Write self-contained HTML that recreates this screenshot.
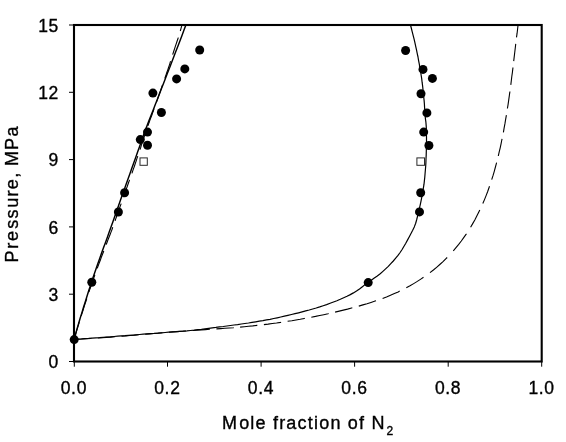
<!DOCTYPE html>
<html><head><meta charset="utf-8"><title>Chart</title>
<style>html,body{margin:0;padding:0;background:#fff;}body{width:566px;height:442px;overflow:hidden;position:relative;font-family:"Liberation Sans",sans-serif;}</style></head>
<body>
<svg width="566" height="442" viewBox="0 0 566 442" style="position:absolute;left:0;top:0;will-change:transform">
<rect x="0" y="0" width="566" height="442" fill="#fff"/>
<line x1="69" y1="361.5" x2="74" y2="361.5" stroke="#000" stroke-width="1"/>
<line x1="69" y1="294.2" x2="74" y2="294.2" stroke="#000" stroke-width="1"/>
<line x1="69" y1="226.9" x2="74" y2="226.9" stroke="#000" stroke-width="1"/>
<line x1="69" y1="159.6" x2="74" y2="159.6" stroke="#000" stroke-width="1"/>
<line x1="69" y1="92.3" x2="74" y2="92.3" stroke="#000" stroke-width="1"/>
<line x1="69" y1="25.0" x2="74" y2="25.0" stroke="#000" stroke-width="1"/>
<line x1="74.3" y1="361" x2="74.3" y2="366.7" stroke="#000" stroke-width="1"/>
<line x1="167.5" y1="361" x2="167.5" y2="366.7" stroke="#000" stroke-width="1"/>
<line x1="261.1" y1="361" x2="261.1" y2="366.7" stroke="#000" stroke-width="1"/>
<line x1="354.6" y1="361" x2="354.6" y2="366.7" stroke="#000" stroke-width="1"/>
<line x1="448.2" y1="361" x2="448.2" y2="366.7" stroke="#000" stroke-width="1"/>
<line x1="541.7" y1="361" x2="541.7" y2="366.7" stroke="#000" stroke-width="1"/>
<g fill="none" stroke="#000" stroke-linejoin="round">
<path d="M74.0,339.5 L74.6,337.4 L75.3,335.3 L75.9,333.1 L76.5,331.0 L77.2,328.9 L77.8,326.8 L78.5,324.7 L79.1,322.5 L79.2,322.2 M81.2,315.8 L81.9,313.7 L82.6,311.5 L83.3,309.4 L83.9,307.3 L84.6,305.2 L85.3,303.1 L86.0,301.0 L86.7,298.9 L86.8,298.5 M88.9,292.0 L89.6,289.9 L90.4,287.8 L91.1,285.7 L91.8,283.6 L92.5,281.5 L93.3,279.4 L94.0,277.3 L94.7,275.3 L94.9,274.8 M97.3,268.3 L98.0,266.2 L98.8,264.1 L99.6,262.0 L100.4,260.0 L101.1,257.9 L101.9,255.8 L102.7,253.8 L103.5,251.7 L103.8,251.0 M106.2,244.6 L107.0,242.5 L107.8,240.4 L108.6,238.3 L109.4,236.3 L110.2,234.2 L111.0,232.1 L111.8,230.1 L112.5,228.0 L112.8,227.3 M115.1,220.8 L115.8,218.7 L116.5,216.7 L117.3,214.6 L118.0,212.5 L118.8,210.4 L119.5,208.3 L120.2,206.2 L121.0,204.1 L121.2,203.6 M123.5,197.1 L124.2,195.0 L124.9,192.9 L125.7,190.8 L126.4,188.7 L127.2,186.6 L127.9,184.5 L128.6,182.5 L129.4,180.4 L129.6,179.8 M131.9,173.4 L132.6,171.3 L133.3,169.2 L134.1,167.1 L134.8,165.0 L135.5,162.9 L136.2,160.8 L136.9,158.7 L137.6,156.6 L137.8,156.1 M140.0,149.6 L140.7,147.5 L141.3,145.4 L142.0,143.3 L142.7,141.2 L143.4,139.1 L144.1,137.0 L144.8,134.9 L145.5,132.8 L145.7,132.4 M147.9,125.9 L148.6,123.8 L149.4,121.7 L150.1,119.6 L150.9,117.5 L151.7,115.5 L152.4,113.4 L153.2,111.3 L153.9,109.2 L154.1,108.6 M156.4,102.2 L157.2,100.1 L157.9,98.0 L158.7,95.9 L159.4,93.8 L160.2,91.7 L160.9,89.6 L161.6,87.6 L162.3,85.5 L162.5,84.9 M164.8,78.4 L165.5,76.4 L166.2,74.3 L166.9,72.2 L167.7,70.1 L168.4,68.0 L169.1,65.9 L169.8,63.8 L170.4,61.7 L170.6,61.2 M172.7,54.7 L173.3,52.6 L174.0,50.5 L174.7,48.4 L175.4,46.2 L176.1,44.1 L176.8,42.0 L177.5,40.0 L178.2,37.9 L178.3,37.5 M180.3,31.0 L180.9,28.8 L181.5,26.7 L181.8,25.3" stroke-width="1.1"/>
<path d="M74.0,339.4 L78.2,339.2 L82.5,339.0 L86.7,338.7 L90.9,338.5 L91.3,338.4 M97.8,338.0 L102.1,337.7 L106.3,337.4 L110.5,337.1 L114.8,336.8 L115.0,336.7 M121.5,336.2 L125.8,335.9 L130.0,335.5 L134.2,335.2 L138.4,334.8 L138.7,334.8 M145.2,334.2 L149.4,333.9 L153.7,333.5 L157.9,333.2 L162.1,332.8 L162.4,332.8 M169.0,332.3 L173.2,331.9 L177.5,331.6 L181.7,331.3 L185.9,331.0 L186.1,330.9 M192.7,330.5 L196.9,330.2 L201.2,329.9 L205.4,329.6 L209.6,329.3 L209.9,329.3 M216.4,328.9 L220.7,328.6 L224.9,328.3 L229.1,328.0 L233.3,327.7 L233.7,327.6 M240.1,327.1 L244.3,326.7 L248.6,326.3 L252.8,325.9 L257.0,325.4 L257.3,325.4 M263.9,324.6 L268.1,324.1 L272.3,323.5 L276.5,323.0 L280.7,322.4 L281.1,322.3 M287.6,321.3 L291.8,320.7 L296.0,320.0 L300.2,319.3 L304.3,318.5 L304.8,318.4 M311.3,317.2 L315.5,316.4 L319.7,315.5 L323.8,314.7 L328.0,313.8 L328.6,313.6 M335.1,312.1 L339.2,311.1 L343.3,310.1 L347.5,309.1 L351.6,308.0 L352.3,307.8 M358.8,306.1 L362.9,304.9 L367.0,303.7 L371.0,302.4 L375.1,301.1 L376.0,300.8 M382.6,298.5 L386.5,297.0 L390.5,295.3 L394.4,293.6 L398.2,291.9 L399.7,291.1 M406.3,287.8 L410.0,285.8 L413.7,283.6 L417.3,281.4 L420.8,279.1 L423.5,277.3 M430.0,272.6 L433.4,270.0 L436.6,267.3 L439.8,264.5 L443.0,261.6 L446.0,258.7 L447.2,257.5 M453.3,250.9 L456.0,247.7 L458.7,244.4 L461.3,241.0 L463.7,237.6 L466.2,234.1 L466.4,233.8 M470.6,227.2 L472.7,223.6 L474.8,219.9 L476.8,216.1 L478.7,212.3 L479.8,210.1 M482.8,203.5 L484.5,199.6 L486.1,195.6 L487.6,191.7 L489.0,187.7 L489.5,186.3 M491.7,179.7 L493.0,175.7 L494.2,171.6 L495.3,167.5 L496.4,163.4 L496.6,162.6 M498.3,156.0 L499.2,151.9 L500.2,147.8 L501.1,143.6 L501.9,139.5 L502.1,138.8 M503.4,132.3 L504.1,128.1 L504.9,123.9 L505.6,119.7 L506.3,115.6 L506.4,115.1 M507.4,108.5 L508.1,104.3 L508.7,100.1 L509.3,95.9 L509.9,91.7 L509.9,91.4 M510.8,84.9 L511.3,80.7 L511.8,76.5 L512.4,72.3 L512.9,68.1 L512.9,67.6 M513.7,61.1 L514.2,56.9 L514.7,52.7 L515.2,48.5 L515.7,44.2 L515.8,43.9 M516.5,37.4 L517.1,33.2 L517.6,29.0 L518.0,25.5" stroke-width="1.1"/>
<path d="M74.0,339.5 L75.6,334.1 L77.1,328.6 L78.7,323.2 L80.3,317.8 L82.0,312.4 L83.6,307.0 L85.3,301.6 L87.0,296.2 L88.7,290.8 L90.5,285.4 L92.2,280.0 L94.0,274.7 L95.9,269.3 L97.7,264.0 L99.6,258.7 L101.5,253.3 L103.4,248.0 L105.4,242.7 L107.3,237.4 L109.2,232.1 L111.1,226.7 L113.0,221.4 L114.9,216.1 L116.8,210.7 L118.6,205.4 L120.5,200.1 L122.4,194.8 L124.3,189.4 L126.2,184.1 L128.1,178.8 L130.0,173.5 L131.9,168.1 L133.8,162.8 L135.7,157.5 L137.6,152.1 L139.5,146.8 L141.3,141.5 L143.2,136.1 L145.1,130.8 L147.1,125.5 L149.1,120.2 L151.2,115.0 L153.3,109.7 L155.3,104.4 L157.4,99.2 L159.4,93.9 L161.5,88.6 L163.5,83.4 L165.6,78.1 L167.6,72.8 L169.7,67.6 L171.7,62.3 L173.7,57.0 L175.7,51.7 L177.8,46.4 L179.8,41.2 L181.8,35.9 L183.8,30.6 L185.8,25.3" stroke-width="1.45"/>
<path d="M74.0,339.4 L77.6,339.1 L81.3,338.9 L84.9,338.6 L88.6,338.4 L92.2,338.1 L95.9,337.8 L99.5,337.6 L103.1,337.3 L106.8,337.0 L110.4,336.8 L114.1,336.5 L117.7,336.2 L121.4,335.9 L125.0,335.7 L128.6,335.4 L132.3,335.1 L135.9,334.8 L139.6,334.5 L143.2,334.2 L146.8,333.9 L150.5,333.6 L154.1,333.4 L157.8,333.1 L161.4,332.8 L165.1,332.5 L168.7,332.2 L172.3,331.9 L176.0,331.7 L179.6,331.4 L183.3,331.2 L186.9,330.9 L190.5,330.5 L194.2,330.2 L197.8,329.7 L201.4,329.3 L205.0,328.8 L208.7,328.3 L212.3,327.8 L215.9,327.4 L219.5,326.9 L223.2,326.5 L226.8,326.0 L230.4,325.5 L234.0,325.0 L237.7,324.6 L241.3,324.0 L244.9,323.5 L248.5,323.0 L252.1,322.4 L255.7,321.8 L259.3,321.2 L262.9,320.6 L266.5,319.9 L270.1,319.3 L273.7,318.5 L277.2,317.8 L280.8,317.0 L284.4,316.2 L287.9,315.4 L291.5,314.5 L295.0,313.7 L298.6,312.8 L302.1,311.9 L305.7,310.9 L309.2,310.0 L312.7,309.0 L316.2,308.0 L319.7,306.9 L323.2,305.7 L326.6,304.6 L330.1,303.3 L333.5,302.0 L336.9,300.7 L340.3,299.3 L343.7,297.8 L347.0,296.3 L350.3,294.6 L353.4,292.9 L356.5,291.0 L359.5,288.9 L362.4,286.7 L365.3,284.4 L368.2,282.2 L371.3,280.2 L374.3,278.1 L377.3,276.0 L380.2,273.8 L382.9,271.4 L385.6,268.9 L388.3,266.4 L390.8,263.7 L393.3,261.0 L395.7,258.2 L398.0,255.4 L400.1,252.5 L402.1,249.5 L404.0,246.3 L405.8,243.2 L407.6,239.9 L409.3,236.7 L411.0,233.4 L412.7,230.2 L414.3,226.9 L415.6,223.5 L416.6,220.0 L417.5,216.4 L418.3,212.9 L419.1,209.3 L420.0,205.8 L420.8,202.2 L421.5,198.6 L422.2,195.0 L422.8,191.4 L423.4,187.8 L424.0,184.2 L424.4,180.6 L424.8,177.0 L425.1,173.3 L425.4,169.7 L425.7,166.0 L425.9,162.4 L426.0,158.7 L426.2,155.1 L426.3,151.4 L426.4,147.8 L426.5,144.1 L426.5,140.5 L426.5,136.8 L426.4,133.2 L426.4,129.5 L426.2,125.9 L425.9,122.2 L425.4,118.6 L425.1,115.0 L424.8,111.3 L424.6,107.7 L424.4,104.0 L424.1,100.4 L423.7,96.8 L423.4,93.1 L423.0,89.5 L422.6,85.9 L422.1,82.2 L421.7,78.6 L421.1,75.0 L420.6,71.4 L419.9,67.8 L419.3,64.2 L418.6,60.6 L418.0,57.0 L417.2,53.4 L416.5,49.9 L415.7,46.3 L414.9,42.7 L414.1,39.2 L413.2,35.6 L412.3,32.1 L411.4,28.5 L410.5,25.0" stroke-width="1.2"/>
</g>
<rect x="74" y="25" width="467.7" height="336.5" fill="none" stroke="#000" stroke-width="2.1"/>
<circle cx="199.7" cy="50.0" r="4.5" fill="#000"/>
<circle cx="184.8" cy="68.9" r="4.5" fill="#000"/>
<circle cx="176.6" cy="78.9" r="4.5" fill="#000"/>
<circle cx="152.9" cy="93.1" r="4.5" fill="#000"/>
<circle cx="161.4" cy="112.5" r="4.5" fill="#000"/>
<circle cx="147.5" cy="132.1" r="4.5" fill="#000"/>
<circle cx="140.3" cy="139.6" r="4.5" fill="#000"/>
<circle cx="147.5" cy="145.3" r="4.5" fill="#000"/>
<circle cx="124.6" cy="192.8" r="4.5" fill="#000"/>
<circle cx="118.4" cy="212.0" r="4.5" fill="#000"/>
<circle cx="91.8" cy="282.2" r="4.5" fill="#000"/>
<circle cx="74.2" cy="339.6" r="4.5" fill="#000"/>
<circle cx="405.6" cy="50.5" r="4.5" fill="#000"/>
<circle cx="423.0" cy="69.4" r="4.5" fill="#000"/>
<circle cx="432.4" cy="78.4" r="4.5" fill="#000"/>
<circle cx="421.0" cy="93.8" r="4.5" fill="#000"/>
<circle cx="426.9" cy="112.9" r="4.5" fill="#000"/>
<circle cx="423.7" cy="132.1" r="4.5" fill="#000"/>
<circle cx="428.9" cy="145.5" r="4.5" fill="#000"/>
<circle cx="420.7" cy="192.8" r="4.5" fill="#000"/>
<circle cx="419.5" cy="211.9" r="4.5" fill="#000"/>
<circle cx="368.2" cy="282.6" r="4.5" fill="#000"/>
<rect x="140" y="157.9" width="7.3" height="7.4" fill="#fff" stroke="#2a2a2a" stroke-width="1"/>
<rect x="416.9" y="157.9" width="7.6" height="7.4" fill="#fff" stroke="#2a2a2a" stroke-width="1"/>
<text x="58.9" y="368.3" text-anchor="end" font-size="17.5" letter-spacing="0.6" font-family="Liberation Sans, sans-serif" fill="#000" stroke="#000" stroke-width="0.35">0</text>
<text x="58.9" y="301.0" text-anchor="end" font-size="17.5" letter-spacing="0.6" font-family="Liberation Sans, sans-serif" fill="#000" stroke="#000" stroke-width="0.35">3</text>
<text x="58.9" y="233.7" text-anchor="end" font-size="17.5" letter-spacing="0.6" font-family="Liberation Sans, sans-serif" fill="#000" stroke="#000" stroke-width="0.35">6</text>
<text x="58.9" y="166.4" text-anchor="end" font-size="17.5" letter-spacing="0.6" font-family="Liberation Sans, sans-serif" fill="#000" stroke="#000" stroke-width="0.35">9</text>
<text x="58.9" y="99.1" text-anchor="end" font-size="17.5" letter-spacing="0.6" font-family="Liberation Sans, sans-serif" fill="#000" stroke="#000" stroke-width="0.35">12</text>
<text x="58.9" y="31.8" text-anchor="end" font-size="17.5" letter-spacing="0.6" font-family="Liberation Sans, sans-serif" fill="#000" stroke="#000" stroke-width="0.35">15</text>
<text x="73.9" y="394" text-anchor="middle" font-size="17.5" letter-spacing="0.7" font-family="Liberation Sans, sans-serif" fill="#000" stroke="#000" stroke-width="0.35">0.0</text>
<text x="167.4" y="394" text-anchor="middle" font-size="17.5" letter-spacing="0.7" font-family="Liberation Sans, sans-serif" fill="#000" stroke="#000" stroke-width="0.35">0.2</text>
<text x="261.0" y="394" text-anchor="middle" font-size="17.5" letter-spacing="0.7" font-family="Liberation Sans, sans-serif" fill="#000" stroke="#000" stroke-width="0.35">0.4</text>
<text x="354.5" y="394" text-anchor="middle" font-size="17.5" letter-spacing="0.7" font-family="Liberation Sans, sans-serif" fill="#000" stroke="#000" stroke-width="0.35">0.6</text>
<text x="448.1" y="394" text-anchor="middle" font-size="17.5" letter-spacing="0.7" font-family="Liberation Sans, sans-serif" fill="#000" stroke="#000" stroke-width="0.35">0.8</text>
<text x="541.6" y="394" text-anchor="middle" font-size="17.5" letter-spacing="0.7" font-family="Liberation Sans, sans-serif" fill="#000" stroke="#000" stroke-width="0.35">1.0</text>
<text x="222.1" y="429" font-size="18" letter-spacing="1.2" dx="0 0.85" font-family="Liberation Sans, sans-serif" fill="#000" stroke="#000" stroke-width="0.35">Mole fraction of N<tspan font-size="12" dy="5.8" dx="0.8">2</tspan></text>
<text transform="translate(18.4,262.5) rotate(-90)" font-size="18" letter-spacing="1.33" dx="0 0.4 0.5 0.8 0 0.3 0 0 0 0 -0.8 -0.35 0" font-family="Liberation Sans, sans-serif" fill="#000" stroke="#000" stroke-width="0.35">Pressure, MPa</text>
</svg>
</body></html>
